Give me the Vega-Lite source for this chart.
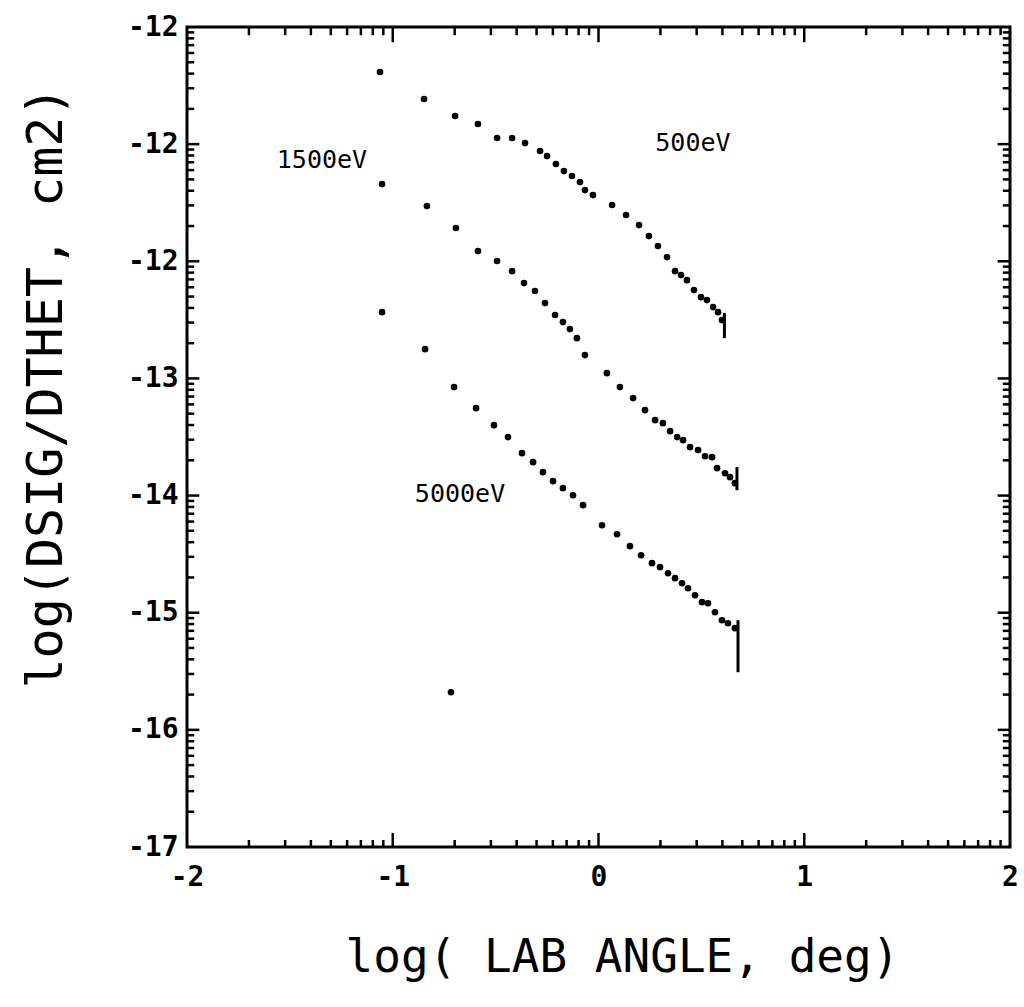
{
  "$schema": "https://vega.github.io/schema/vega-lite/v6.json",
  "width": 823,
  "height": 820,
  "autosize": {"type": "none"},
  "padding": {"left": 187, "top": 27, "right": 14, "bottom": 160},
  "background": "white",
  "config": {
    "view": {"stroke": "black", "strokeWidth": 3},
    "font": "DejaVu Sans Mono"
  },
  "datasets": {
    "pts": [
      {"series": "500eV", "x": -1.062, "y": -10.384},
      {"series": "500eV", "x": -0.848, "y": -10.615},
      {"series": "500eV", "x": -0.697, "y": -10.760},
      {"series": "500eV", "x": -0.586, "y": -10.828},
      {"series": "500eV", "x": -0.493, "y": -10.948},
      {"series": "500eV", "x": -0.420, "y": -10.948},
      {"series": "500eV", "x": -0.357, "y": -10.991},
      {"series": "500eV", "x": -0.284, "y": -11.059},
      {"series": "500eV", "x": -0.250, "y": -11.102},
      {"series": "500eV", "x": -0.207, "y": -11.170},
      {"series": "500eV", "x": -0.168, "y": -11.230},
      {"series": "500eV", "x": -0.129, "y": -11.272},
      {"series": "500eV", "x": -0.090, "y": -11.324},
      {"series": "500eV", "x": -0.066, "y": -11.392},
      {"series": "500eV", "x": -0.027, "y": -11.435},
      {"series": "500eV", "x": 0.066, "y": -11.520},
      {"series": "500eV", "x": 0.134, "y": -11.605},
      {"series": "500eV", "x": 0.197, "y": -11.691},
      {"series": "500eV", "x": 0.245, "y": -11.785},
      {"series": "500eV", "x": 0.289, "y": -11.870},
      {"series": "500eV", "x": 0.333, "y": -11.964},
      {"series": "500eV", "x": 0.372, "y": -12.084},
      {"series": "500eV", "x": 0.401, "y": -12.118},
      {"series": "500eV", "x": 0.430, "y": -12.161},
      {"series": "500eV", "x": 0.464, "y": -12.246},
      {"series": "500eV", "x": 0.498, "y": -12.306},
      {"series": "500eV", "x": 0.527, "y": -12.331},
      {"series": "500eV", "x": 0.557, "y": -12.391},
      {"series": "500eV", "x": 0.581, "y": -12.434},
      {"series": "500eV", "x": 0.600, "y": -12.502},
      {"series": "1500eV", "x": -1.052, "y": -11.341},
      {"series": "1500eV", "x": -0.834, "y": -11.529},
      {"series": "1500eV", "x": -0.693, "y": -11.716},
      {"series": "1500eV", "x": -0.586, "y": -11.913},
      {"series": "1500eV", "x": -0.493, "y": -11.998},
      {"series": "1500eV", "x": -0.420, "y": -12.084},
      {"series": "1500eV", "x": -0.362, "y": -12.186},
      {"series": "1500eV", "x": -0.309, "y": -12.254},
      {"series": "1500eV", "x": -0.260, "y": -12.357},
      {"series": "1500eV", "x": -0.211, "y": -12.459},
      {"series": "1500eV", "x": -0.173, "y": -12.519},
      {"series": "1500eV", "x": -0.139, "y": -12.579},
      {"series": "1500eV", "x": -0.105, "y": -12.656},
      {"series": "1500eV", "x": -0.066, "y": -12.801},
      {"series": "1500eV", "x": 0.041, "y": -12.955},
      {"series": "1500eV", "x": 0.104, "y": -13.074},
      {"series": "1500eV", "x": 0.168, "y": -13.168},
      {"series": "1500eV", "x": 0.226, "y": -13.271},
      {"series": "1500eV", "x": 0.275, "y": -13.356},
      {"series": "1500eV", "x": 0.313, "y": -13.382},
      {"series": "1500eV", "x": 0.348, "y": -13.450},
      {"series": "1500eV", "x": 0.382, "y": -13.501},
      {"series": "1500eV", "x": 0.411, "y": -13.527},
      {"series": "1500eV", "x": 0.445, "y": -13.587},
      {"series": "1500eV", "x": 0.484, "y": -13.612},
      {"series": "1500eV", "x": 0.518, "y": -13.664},
      {"series": "1500eV", "x": 0.552, "y": -13.672},
      {"series": "1500eV", "x": 0.576, "y": -13.766},
      {"series": "1500eV", "x": 0.615, "y": -13.809},
      {"series": "1500eV", "x": 0.639, "y": -13.843},
      {"series": "1500eV", "x": 0.663, "y": -13.894},
      {"series": "5000eV", "x": -1.052, "y": -12.434},
      {"series": "5000eV", "x": -0.843, "y": -12.750},
      {"series": "5000eV", "x": -0.702, "y": -13.074},
      {"series": "5000eV", "x": -0.595, "y": -13.254},
      {"series": "5000eV", "x": -0.508, "y": -13.399},
      {"series": "5000eV", "x": -0.440, "y": -13.501},
      {"series": "5000eV", "x": -0.372, "y": -13.638},
      {"series": "5000eV", "x": -0.318, "y": -13.715},
      {"series": "5000eV", "x": -0.270, "y": -13.800},
      {"series": "5000eV", "x": -0.221, "y": -13.877},
      {"series": "5000eV", "x": -0.173, "y": -13.937},
      {"series": "5000eV", "x": -0.124, "y": -13.997},
      {"series": "5000eV", "x": -0.075, "y": -14.082},
      {"series": "5000eV", "x": 0.017, "y": -14.253},
      {"series": "5000eV", "x": 0.090, "y": -14.330},
      {"series": "5000eV", "x": 0.153, "y": -14.432},
      {"series": "5000eV", "x": 0.207, "y": -14.509},
      {"series": "5000eV", "x": 0.260, "y": -14.577},
      {"series": "5000eV", "x": 0.299, "y": -14.611},
      {"series": "5000eV", "x": 0.338, "y": -14.663},
      {"series": "5000eV", "x": 0.372, "y": -14.705},
      {"series": "5000eV", "x": 0.406, "y": -14.748},
      {"series": "5000eV", "x": 0.435, "y": -14.791},
      {"series": "5000eV", "x": 0.469, "y": -14.851},
      {"series": "5000eV", "x": 0.503, "y": -14.910},
      {"series": "5000eV", "x": 0.532, "y": -14.919},
      {"series": "5000eV", "x": 0.566, "y": -14.996},
      {"series": "5000eV", "x": 0.600, "y": -15.064},
      {"series": "5000eV", "x": 0.629, "y": -15.090},
      {"series": "5000eV", "x": 0.663, "y": -15.132},
      {"series": "5000eV", "x": -0.717, "y": -15.679}
    ],
    "ends": [
      {"series": "500eV", "x": 0.612, "ylo": -12.656, "yhi": -12.44},
      {"series": "1500eV", "x": 0.673, "ylo": -13.954, "yhi": -13.757},
      {"series": "5000eV", "x": 0.678, "ylo": -15.508, "yhi": -15.064}
    ],
    "labels": [
      {"label": "500eV", "x": 0.459, "y": -10.991},
      {"label": "1500eV", "x": -1.344, "y": -11.136},
      {"label": "5000eV", "x": -0.673, "y": -13.988}
    ],
    "xmajor": [{"v": -1}, {"v": 0}, {"v": 1}],
    "xminor": [
      {"v": -1.699}, {"v": -1.5229}, {"v": -1.3979}, {"v": -1.301}, {"v": -1.2218}, {"v": -1.1549}, {"v": -1.0969}, {"v": -1.0458},
      {"v": -0.699}, {"v": -0.5229}, {"v": -0.3979}, {"v": -0.301}, {"v": -0.2218}, {"v": -0.1549}, {"v": -0.0969}, {"v": -0.0458},
      {"v": 0.301}, {"v": 0.4771}, {"v": 0.6021}, {"v": 0.699}, {"v": 0.7782}, {"v": 0.8451}, {"v": 0.9031}, {"v": 0.9542},
      {"v": 1.301}, {"v": 1.4771}, {"v": 1.6021}, {"v": 1.699}, {"v": 1.7782}, {"v": 1.8451}, {"v": 1.9031}, {"v": 1.9542}
    ],
    "ymajor": [{"v": -16}, {"v": -15}, {"v": -14}, {"v": -13}, {"v": -12}, {"v": -11}],
    "yminor": [
      {"v": -16.699}, {"v": -16.5229}, {"v": -16.3979}, {"v": -16.301}, {"v": -16.2218}, {"v": -16.1549}, {"v": -16.0969}, {"v": -16.0458},
      {"v": -15.699}, {"v": -15.5229}, {"v": -15.3979}, {"v": -15.301}, {"v": -15.2218}, {"v": -15.1549}, {"v": -15.0969}, {"v": -15.0458},
      {"v": -14.699}, {"v": -14.5229}, {"v": -14.3979}, {"v": -14.301}, {"v": -14.2218}, {"v": -14.1549}, {"v": -14.0969}, {"v": -14.0458},
      {"v": -13.699}, {"v": -13.5229}, {"v": -13.3979}, {"v": -13.301}, {"v": -13.2218}, {"v": -13.1549}, {"v": -13.0969}, {"v": -13.0458},
      {"v": -12.699}, {"v": -12.5229}, {"v": -12.3979}, {"v": -12.301}, {"v": -12.2218}, {"v": -12.1549}, {"v": -12.0969}, {"v": -12.0458},
      {"v": -11.699}, {"v": -11.5229}, {"v": -11.3979}, {"v": -11.301}, {"v": -11.2218}, {"v": -11.1549}, {"v": -11.0969}, {"v": -11.0458},
      {"v": -10.699}, {"v": -10.5229}, {"v": -10.3979}, {"v": -10.301}, {"v": -10.2218}, {"v": -10.1549}, {"v": -10.0969}, {"v": -10.0458}
    ]
  },
  "layer": [
    {
      "data": {"name": "pts"},
      "mark": {"type": "circle", "color": "black", "opacity": 1, "size": 44},
      "encoding": {
        "x": {
          "field": "x", "type": "quantitative",
          "scale": {"domain": [-2, 2], "nice": false, "zero": false},
          "axis": {
            "orient": "bottom", "values": [-2, -1, 0, 1, 2], "format": "d",
            "labelExpr": "'' + datum.value",
            "ticks": false, "tickSize": 0, "domain": false, "grid": false,
            "labelFont": "DejaVu Sans Mono", "labelFontSize": 28, "labelFontWeight": "bold", "labelColor": "black",
            "labelPadding": 16, "labelFlush": false,
            "title": "log( LAB ANGLE, deg)", "titleFont": "DejaVu Sans Mono",
            "titleFontSize": 46, "titleFontWeight": "normal", "titleColor": "black",
            "titlePadding": 44, "titleX": 435
          }
        },
        "y": {
          "field": "y", "type": "quantitative",
          "scale": {"domain": [-17, -10], "nice": false, "zero": false},
          "axis": {
            "orient": "left", "values": [-17, -16, -15, -14, -13, -12, -11, -10],
            "labelExpr": "datum.value >= -12 ? '-12' : '' + datum.value",
            "ticks": false, "tickSize": 0, "domain": false, "grid": false,
            "labelFont": "DejaVu Sans Mono", "labelFontSize": 28, "labelFontWeight": "bold", "labelColor": "black",
            "labelPadding": 9, "labelFlush": false,
            "title": "log(DSIG/DTHET, cm2)", "titleFont": "DejaVu Sans Mono",
            "titleFontSize": 50, "titleFontWeight": "normal", "titleColor": "black",
            "titlePadding": 56, "titleY": 360
          }
        }
      }
    },
    {
      "data": {"name": "ends"},
      "mark": {"type": "rule", "color": "black", "strokeWidth": 3},
      "encoding": {
        "x": {"field": "x", "type": "quantitative"},
        "y": {"field": "ylo", "type": "quantitative"},
        "y2": {"field": "yhi"}
      }
    },
    {
      "data": {"name": "labels"},
      "mark": {"type": "text", "color": "black", "font": "DejaVu Sans Mono", "fontSize": 25, "align": "center", "baseline": "middle"},
      "encoding": {
        "x": {"field": "x", "type": "quantitative"},
        "y": {"field": "y", "type": "quantitative"},
        "text": {"field": "label"}
      }
    },
    {
      "data": {"name": "ymajor"},
      "mark": {"type": "rule", "color": "black", "strokeWidth": 2.5},
      "encoding": {"y": {"field": "v", "type": "quantitative"}, "x": {"datum": -2}, "x2": {"datum": -1.94}}
    },
    {
      "data": {"name": "yminor"},
      "mark": {"type": "rule", "color": "black", "strokeWidth": 2.5},
      "encoding": {"y": {"field": "v", "type": "quantitative"}, "x": {"datum": -2}, "x2": {"datum": -1.965}}
    },
    {
      "data": {"name": "ymajor"},
      "mark": {"type": "rule", "color": "black", "strokeWidth": 2.5},
      "encoding": {"y": {"field": "v", "type": "quantitative"}, "x": {"datum": 2}, "x2": {"datum": 1.94}}
    },
    {
      "data": {"name": "yminor"},
      "mark": {"type": "rule", "color": "black", "strokeWidth": 2.5},
      "encoding": {"y": {"field": "v", "type": "quantitative"}, "x": {"datum": 2}, "x2": {"datum": 1.965}}
    },
    {
      "data": {"name": "xmajor"},
      "mark": {"type": "rule", "color": "black", "strokeWidth": 2.5},
      "encoding": {"x": {"field": "v", "type": "quantitative"}, "y": {"datum": -17}, "y2": {"datum": -16.88}}
    },
    {
      "data": {"name": "xminor"},
      "mark": {"type": "rule", "color": "black", "strokeWidth": 2.5},
      "encoding": {"x": {"field": "v", "type": "quantitative"}, "y": {"datum": -17}, "y2": {"datum": -16.94}}
    },
    {
      "data": {"name": "xmajor"},
      "mark": {"type": "rule", "color": "black", "strokeWidth": 2.5},
      "encoding": {"x": {"field": "v", "type": "quantitative"}, "y": {"datum": -10}, "y2": {"datum": -10.13}}
    },
    {
      "data": {"name": "xminor"},
      "mark": {"type": "rule", "color": "black", "strokeWidth": 2.5},
      "encoding": {"x": {"field": "v", "type": "quantitative"}, "y": {"datum": -10}, "y2": {"datum": -10.07}}
    }
  ]
}
